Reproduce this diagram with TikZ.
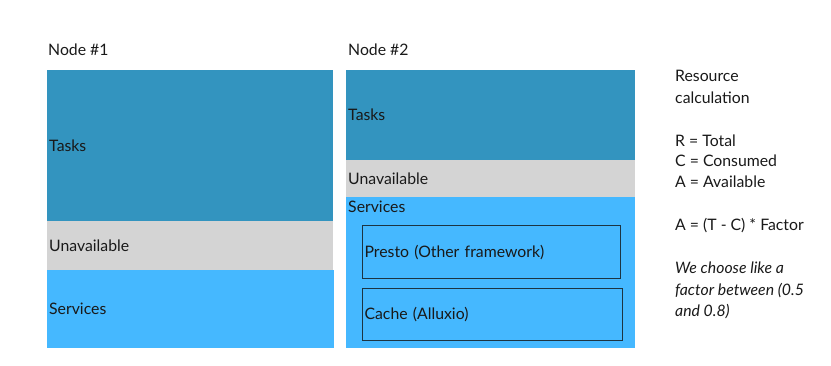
\documentclass[tikz,border=0pt]{standalone}
\usepackage{fontspec}
\setmainfont{Lato}
\definecolor{taskc}{HTML}{3394BF}
\definecolor{unavc}{HTML}{D4D4D4}
\definecolor{servc}{HTML}{45B8FF}
\definecolor{edgec}{HTML}{1C3442}
\begin{document}
\begin{tikzpicture}[x=1pt,y=-1pt,
  every node/.style={font=\fontsize{15.8}{18}\selectfont, text=black!90},
  band/.style={rectangle, anchor=north west, inner xsep=2pt, inner ysep=0pt, align=left, text height=2.4ex, text depth=.3ex},
  lbl/.style={anchor=west, inner sep=0pt, text height=2.4ex, text depth=.3ex},
  inbox/.style={band, draw=edgec, line width=1.1pt, fill=servc}]
\useasboundingbox (0,0) rectangle (831,366);
% Node 1
\node[lbl] (n1) at (48,50) {Node \#1};
\node[band, fill=taskc, minimum height=151pt, text width=282pt] (t1) at (47,70) {Tasks};
\node[band, fill=unavc, minimum height=49pt, text width=282pt] (u1) at (47,221) {Unavailable};
\node[band, fill=servc, minimum height=78pt, text width=283pt] (s1) at (47,270) {Services};
% Node 2
\node[lbl] (n2) at (348,50) {Node \#2};
\node[band, fill=taskc, minimum height=90pt, text width=285pt] (t2) at (346,70) {Tasks};
\node[band, fill=unavc, minimum height=37pt, text width=285pt] (u2) at (346,160) {Unavailable};
\node[band, fill=servc, minimum height=151pt, text width=285pt] (s2) at (346,197) {};
\node[lbl] (s2l) at (348,207) {Services};
\node[inbox, minimum height=53pt, text width=254pt] (presto) at (362,225) {Presto (Other framework)};
\node[inbox, minimum height=52pt, text width=256pt] (cache) at (362,288) {Cache (Alluxio)};
% Right text
\node[lbl] (r1) at (675,76) {Resource};
\node[lbl] (r2) at (675,98) {calculation};
\node[lbl] (r3) at (675,141) {R = Total};
\node[lbl] (r4) at (675,161) {C = Consumed};
\node[lbl] (r5) at (675,182) {A = Available};
\node[lbl] (r6) at (675,225) {A = (T - C) * Factor};
\node[lbl] (r7) at (675,268) {\itshape We choose like a};
\node[lbl] (r8) at (675,290) {\itshape factor between (0.5};
\node[lbl] (r9) at (675,311) {\itshape and 0.8)};
\end{tikzpicture}
\end{document}
